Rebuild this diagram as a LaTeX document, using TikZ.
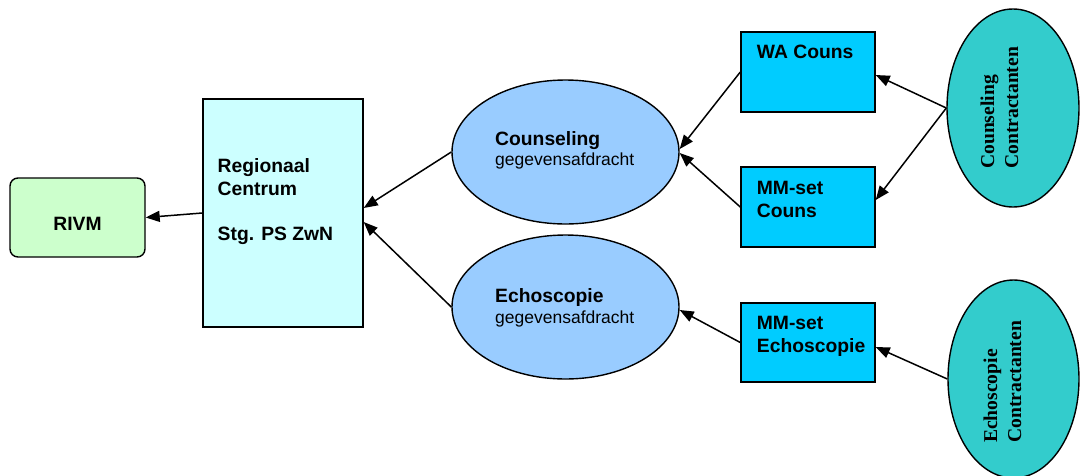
\documentclass[tikz,border=0pt]{standalone}
\usepackage{fontspec}
\setmainfont{Liberation Sans}
\newfontfamily\tms{Liberation Serif}
\usetikzlibrary{shapes.geometric,arrows.meta,calc}
\definecolor{rivmgreen}{HTML}{CCFFCC}
\definecolor{rcyan}{HTML}{CCFFFF}
\definecolor{ellblue}{HTML}{99CCFF}
\definecolor{boxblue}{HTML}{00CCFF}
\definecolor{teal2}{HTML}{33CCCC}
\tikzset{
  box/.style={draw, line width=1.4pt, rectangle, inner sep=0pt},
  ell/.style={draw, line width=1.4pt, ellipse, inner sep=0pt},
  lbl/.style={anchor=base west, inner sep=0pt, align=left, font=\fontsize{19.3}{22.7}\selectfont\bfseries},
  sub/.style={anchor=base west, inner sep=0pt, font=\fontsize{17.5}{21}\selectfont},
  rot/.style={anchor=base west, inner sep=0pt, align=left, rotate=90, font=\tms\fontsize{19.6}{24}\selectfont\bfseries},
  arr/.style={draw, line width=1.5pt, -{Triangle[length=14pt,width=11pt]}}
}
\begin{document}
\begin{tikzpicture}[x=1pt,y=-1pt]
\useasboundingbox (0,0) rectangle (1080,475);
% nodes
\node[box, rounded corners=8pt, fill=rivmgreen, minimum width=135pt, minimum height=79pt] (rivm) at (77.5,217.5) {};
\node[box, fill=rcyan, minimum width=160pt, minimum height=228pt] (rc) at (283,213) {};
\node[ell, fill=ellblue, minimum width=227pt, minimum height=144pt] (cel) at (565.5,152) {};
\node[ell, fill=ellblue, minimum width=227pt, minimum height=144pt] (eel) at (565.5,307) {};
\node[box, fill=boxblue, minimum width=134pt, minimum height=80pt] (wa) at (808,72) {};
\node[box, fill=boxblue, minimum width=134pt, minimum height=80pt] (mmc) at (808,207) {};
\node[box, fill=boxblue, minimum width=134pt, minimum height=79pt] (mme) at (808,342.5) {};
\node[ell, fill=teal2, minimum width=132pt, minimum height=198pt] (ccon) at (1013,108) {};
\node[ell, fill=teal2, minimum width=131pt, minimum height=198pt] (econ) at (1013.5,379) {};
% labels (base anchor = baseline of the last line)
\node[lbl, anchor=base] (rivm-t) at (77.5,230) {RIVM};
\node[lbl] (rc-t) at (217.5,240.7) {Regionaal\\Centrum\\[22.7pt]Stg. PS ZwN};
\node[lbl] (cel-t) at (495,145) {Counseling};
\node[sub] (cel-s) at (495,165.7) {gegevensafdracht};
\node[lbl] (eel-t) at (495,302) {Echoscopie};
\node[sub] (eel-s) at (495,323) {gegevensafdracht};
\node[lbl] (wa-t) at (756.7,58.3) {WA Couns};
\node[lbl] (mmc-t) at (756.7,217) {MM-set\\Couns};
\node[lbl] (mme-t) at (756.7,352) {MM-set\\Echoscopie};
\node[rot] (ccon-t) at (1018,169) {Counseling\\Contractanten};
\node[rot] (econ-t) at (1021,443) {Echoscopie\\Contractanten};
% connectors
\draw[arr] (rc.west) -- (rivm.east);
\draw[arr] (cel.west) -- ([yshift=5pt]rc.east);
\draw[arr] (eel.west) -- ([yshift=-9pt]rc.east);
\draw[arr] (wa.west) -- ([yshift=3pt]cel.east);
\draw[arr] (mmc.west) -- ([yshift=-1pt]cel.east);
\draw[arr] (mme.west) -- ([yshift=-3pt]eel.east);
\draw[arr] (ccon.west) -- ([yshift=-3pt]wa.east);
\draw[arr] (ccon.west) -- ([yshift=7pt]mmc.east);
\draw[arr] (econ.west) -- ([yshift=-4.5pt]mme.east);
\end{tikzpicture}
\end{document}
